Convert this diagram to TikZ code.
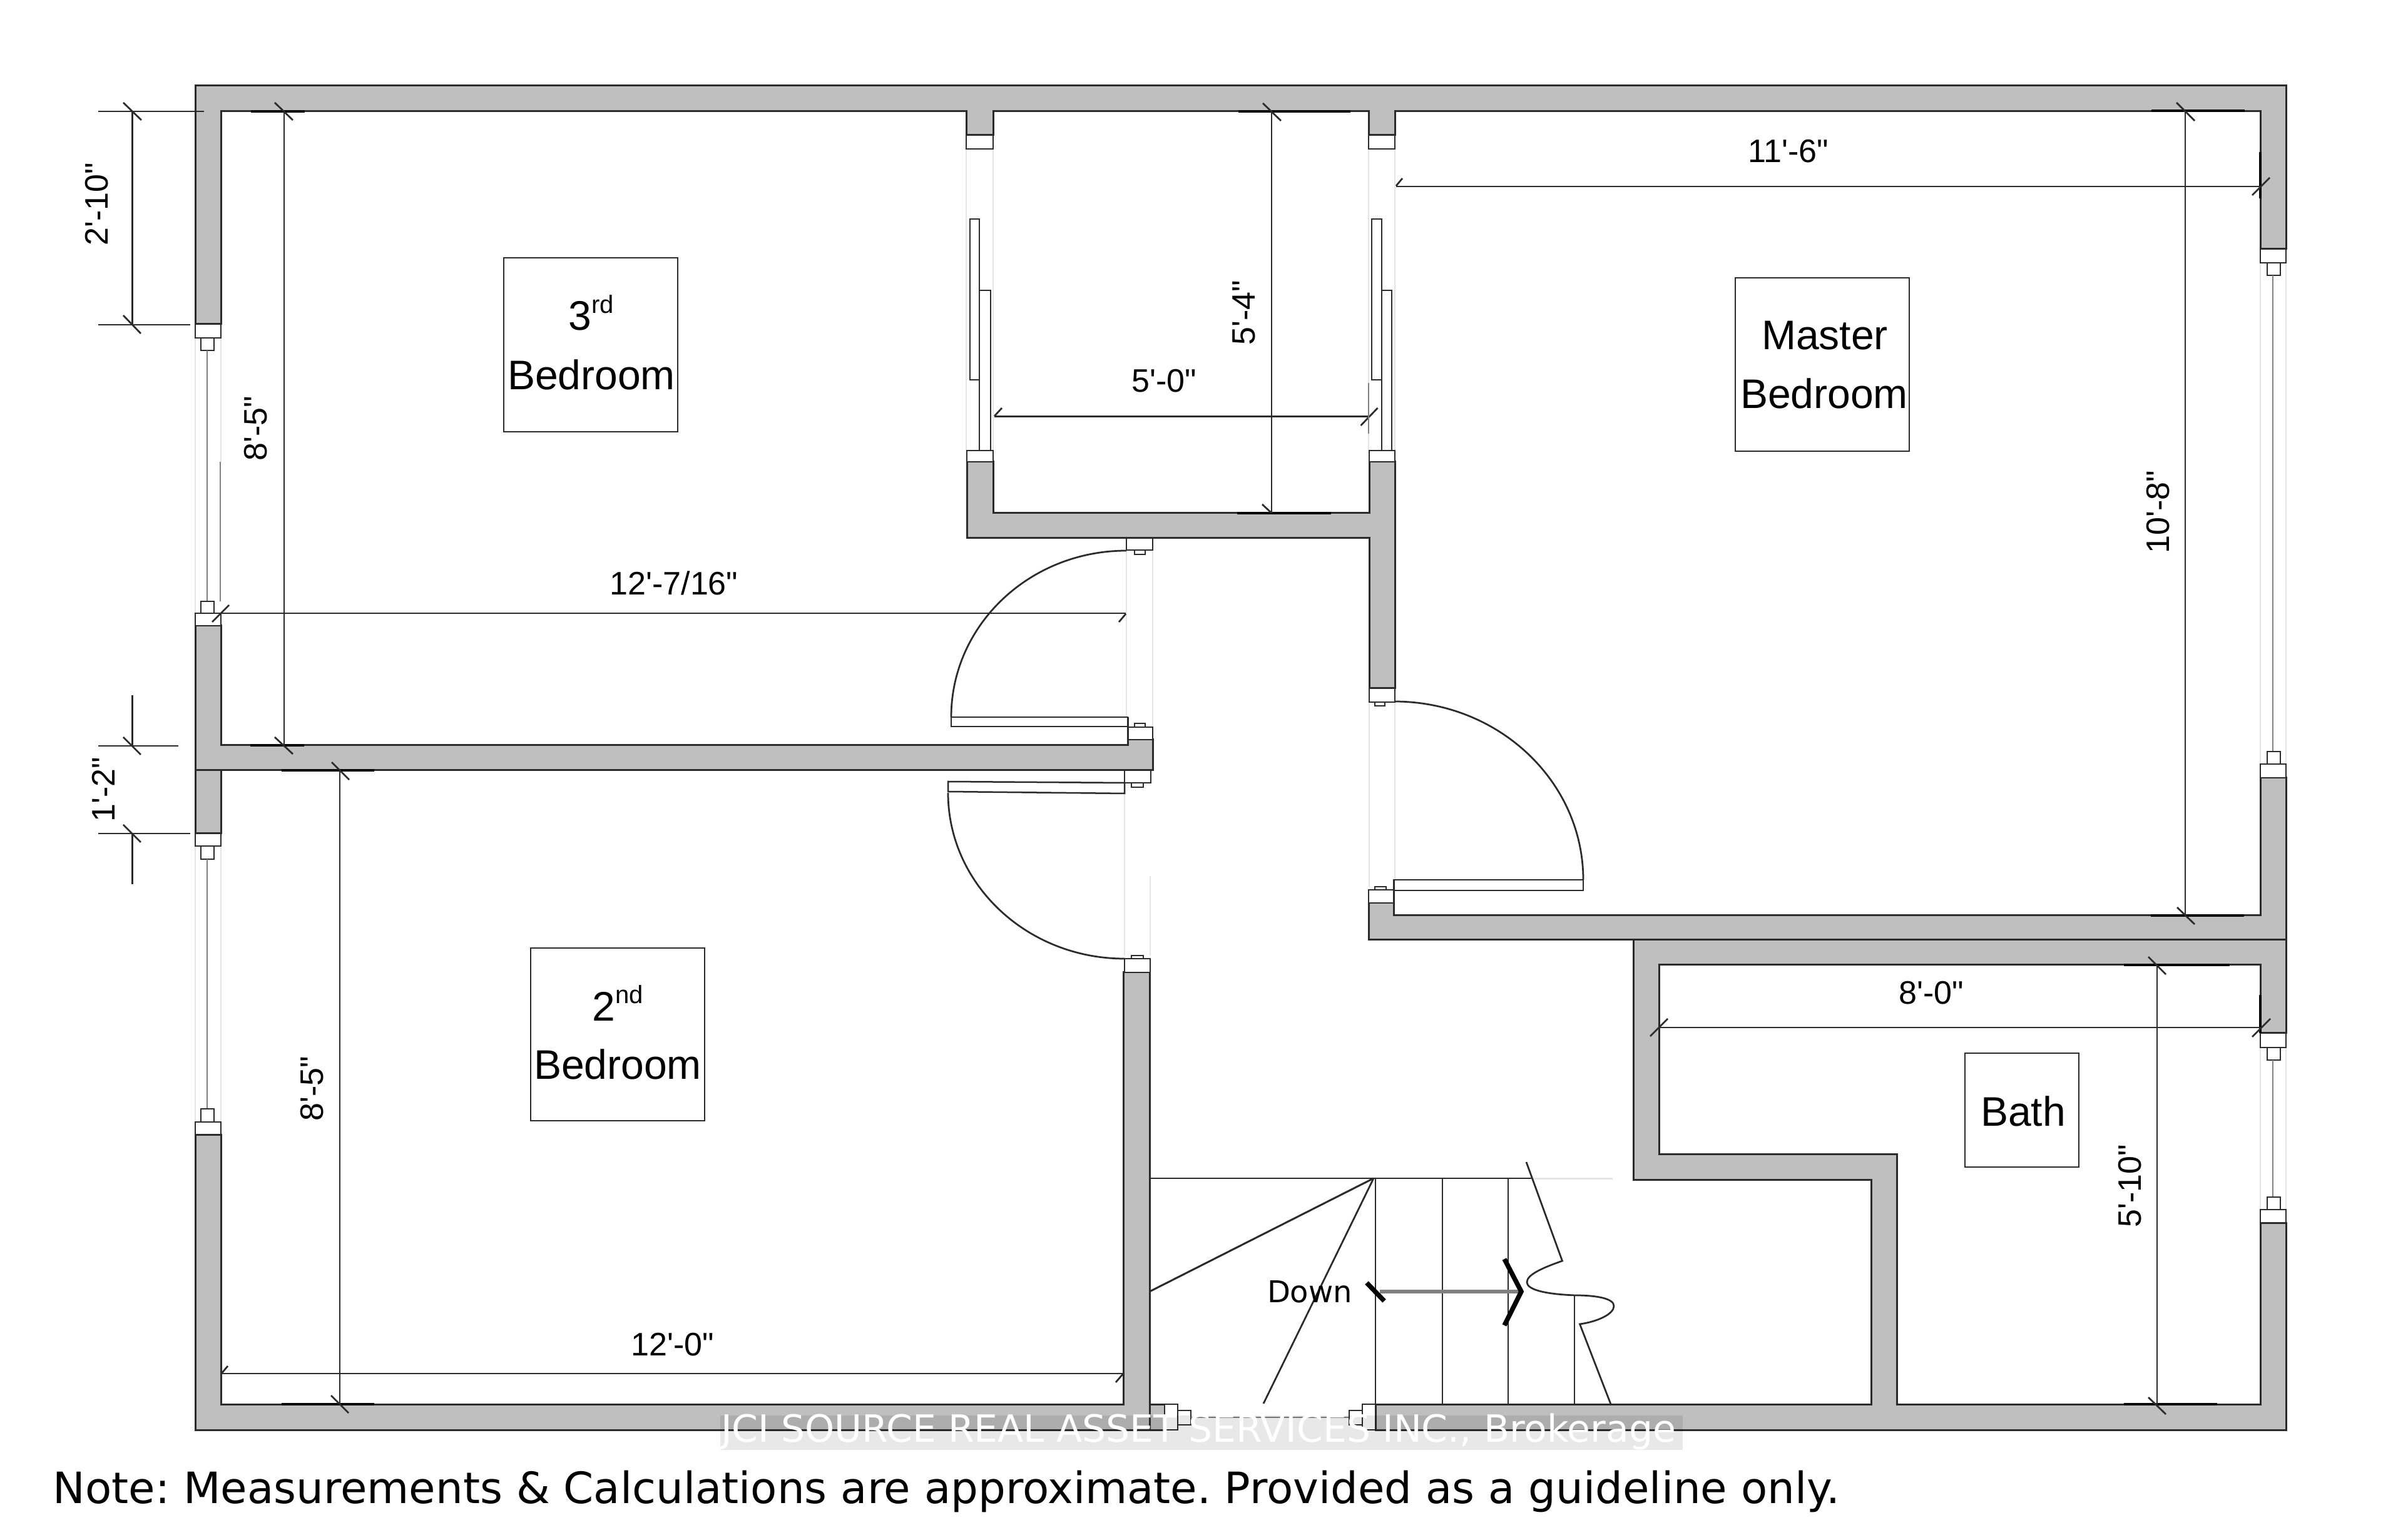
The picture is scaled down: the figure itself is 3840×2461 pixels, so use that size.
\documentclass[tikz,border=0pt]{standalone}
\usepackage{fontspec}
\setmainfont{Liberation Sans}[Ligatures=TeXOff]
\newfontfamily\dejavu{DejaVu Sans}
\definecolor{wallgray}{HTML}{BFBFBF}
\definecolor{inkc}{HTML}{2B2B2B}
\newcommand{\fs}[1]{\fontsize{#1}{#1}\selectfont}
\tikzset{
  wall/.style={fill=wallgray,draw=inkc,line width=.6pt,line join=miter},
  seam/.style={draw=inkc,line width=.6pt},
  jamb/.style={fill=white,draw=inkc,line width=.55pt},
  pane/.style={draw=inkc,line width=.5pt,fill=white},
  glass/.style={draw=gray,line width=.55pt},
  faint/.style={draw=black!10,line width=.35pt},
  dimline/.style={draw=inkc,line width=.55pt},
  tick/.style={draw=inkc,line width=.55pt},
  strip/.style={draw=black,line width=.8pt},
  swing/.style={draw=inkc,line width=.55pt},
  tread/.style={draw=inkc,line width=.55pt},
  roombox/.style={draw=inkc,line width=.55pt},
  dimtext/.style={font=\fs{10.4},text=black,inner sep=0pt,anchor=base},
  dimvert/.style={dimtext,rotate=90},
  roomtext/.style={font=\fs{13.2},text=black,inner sep=0pt,anchor=base},
}
\begin{document}
\begin{tikzpicture}[x=0.2pt,y=-0.2pt]
\useasboundingbox[fill=white] (0,0) rectangle (3840,2461);

% faint opening lines
\draw[faint] (312,540)--(312,980) (353,540)--(353,738);
\draw[faint] (312,1352)--(312,1793) (353,1352)--(353,1793);
\draw[faint] (3612,420)--(3612,1221) (3653,420)--(3653,1221);
\draw[faint] (3612,1674)--(3612,1933) (3653,1674)--(3653,1933);
\draw[faint] (1544,238)--(1544,720) (1587,238)--(1587,720);
\draw[faint] (2187,238)--(2187,720) (2229,238)--(2229,720);
\draw[faint] (1800,879)--(1800,1162) (1842,879)--(1842,1162);
\draw[faint] (1797,1258)--(1797,1527) (1838,1400)--(1838,1527);
\draw[faint] (2188,1122)--(2188,1417) (2229,1122)--(2229,1406);

% walls
\draw[wall] (312,518)--(312,137)--(3653,137)--(3653,398)--(3612,398)--(3612,178)--(2229,178)--(2229,216)--(2187,216)--(2187,178)--(1587,178)--(1587,216)--(1544,216)--(1544,178)--(353,178)--(353,518)--cycle;
\draw[wall] (312,1000)--(353,1000)--(353,1191)--(1802,1191)--(1802,1182)--(1842,1182)--(1842,1231)--(353,1231)--(353,1332)--(312,1332)--cycle;
\draw[seam] (312,1231)--(353,1231);
\draw[wall] (312,1813)--(353,1813)--(353,2244)--(1795,2244)--(1795,1554)--(1837,1554)--(1837,2244)--(1861,2244)--(1861,2285)--(312,2285)--cycle;
\draw[seam] (1837,2244)--(1837,2285);
\draw[wall] (1545,738)--(1587,738)--(1587,820)--(2188,820)--(2188,738)--(2229,738)--(2229,1100)--(2188,1100)--(2188,860)--(1545,860)--cycle;
\draw[wall] (2187,1443)--(2227,1443)--(2227,1463)--(3612,1463)--(3612,1243)--(3653,1243)--(3653,1651)--(3612,1651)--(3612,1542)--(2651,1542)--(2651,1844)--(3031,1844)--(3031,2244)--(3612,2244)--(3612,1954)--(3653,1954)--(3653,2285)--(2198,2285)--(2198,2244)--(2990,2244)--(2990,1885)--(2610,1885)--(2610,1502)--(2187,1502)--cycle;
\draw[seam] (2610,1502)--(3653,1502);

% left windows
\draw[jamb] (312,518) rectangle (353,540);
\draw[jamb] (321,540) rectangle (342,560);
\draw[glass] (331,560)--(331,961);
\draw[jamb] (321,961) rectangle (342,980);
\draw[jamb] (312,980) rectangle (353,1000);
\draw[glass] (352,738)--(352,961);
\draw[jamb] (312,1332) rectangle (353,1352);
\draw[jamb] (321,1352) rectangle (342,1373);
\draw[glass] (331,1373)--(331,1772);
\draw[jamb] (321,1772) rectangle (342,1793);
\draw[jamb] (312,1793) rectangle (353,1813);
% right windows
\draw[jamb] (3612,398) rectangle (3653,420);
\draw[jamb] (3623,420) rectangle (3644,440);
\draw[glass] (3632,440)--(3632,1201);
\draw[jamb] (3623,1201) rectangle (3644,1221);
\draw[jamb] (3612,1221) rectangle (3653,1243);
\draw[jamb] (3612,1651) rectangle (3653,1674);
\draw[jamb] (3623,1674) rectangle (3644,1694);
\draw[glass] (3632,1694)--(3632,1913);
\draw[jamb] (3623,1913) rectangle (3644,1934);
\draw[jamb] (3612,1933) rectangle (3653,1954);
% bottom window
\draw[jamb] (1861,2244) rectangle (1882,2285);
\draw[jamb] (1882,2254) rectangle (1903,2277);
\draw[glass] (1903,2265)--(2156,2265);
\draw[jamb] (2156,2254) rectangle (2177,2277);
\draw[jamb] (2177,2244) rectangle (2198,2285);

% closet stubs and sliding panels
\draw[jamb] (1544,216) rectangle (1587,238);
\draw[jamb] (2187,216) rectangle (2229,238);
\draw[jamb] (1545,720) rectangle (1587,738);
\draw[jamb] (2188,720) rectangle (2229,738);
\draw[pane] (1550,350) rectangle (1565,607);
\draw[pane] (1565,464) rectangle (1583,720);
\draw[pane] (2192,350) rectangle (2208,607);
\draw[pane] (2208,464) rectangle (2224,720);

% door jambs
\draw[jamb] (1800,860) rectangle (1842,879);
\draw[jamb] (1813,879) rectangle (1830,886);
\draw[jamb] (1802,1162) rectangle (1842,1182);
\draw[jamb] (1813,1156) rectangle (1830,1162);
\draw[jamb] (1797,1231) rectangle (1839,1251);
\draw[jamb] (1808,1251) rectangle (1827,1258);
\draw[jamb] (1797,1532) rectangle (1838,1554);
\draw[jamb] (1808,1527) rectangle (1827,1532);
\draw[jamb] (2188,1100) rectangle (2229,1122);
\draw[jamb] (2197,1122) rectangle (2213,1128);
\draw[jamb] (2187,1422) rectangle (2227,1443);
\draw[jamb] (2197,1417) rectangle (2215,1422);

% door panels and swings
\draw[pane] (1520,1146) rectangle (1802,1161);
\draw[seam] (1802,1146)--(1802,1191);
\draw[swing] (1800,880) .. controls (1645,880) and (1520,999) .. (1520,1146);
\draw[pane] (1515,1249)--(1797,1251)--(1797,1268)--(1515,1265)--cycle;
\draw[swing] (1515,1267) .. controls (1515,1413) and (1641,1532) .. (1797,1532);
\draw[pane] (2227,1406) rectangle (2530,1423);
\draw[seam] (2227,1406)--(2227,1463);
\draw[swing] (2228,1121) .. controls (2395,1121) and (2530,1249) .. (2530,1406);

% stairs
\draw[tread] (1837,1883)--(2447,1883);
\draw[faint,line width=.6pt] (2447,1883)--(2577,1883);
\draw[tread] (2198,1883)--(2198,2244) (2305,1883)--(2305,2244) (2410,1883)--(2410,2244) (2516,2070)--(2516,2244);
\draw[tread,line width=.6pt] (2195,1883)--(1837,2064);
\draw[tread] (2195,1883)--(2019,2243);
\draw[tread] (2439,1857)--(2496.5,2015) .. controls (2465,2026) and (2440,2037) .. (2440,2049) .. controls (2440,2060) and (2465,2068) .. (2517.5,2070) .. controls (2553,2070) and (2579,2075.5) .. (2579,2087) .. controls (2579,2100) and (2553,2112) .. (2524.5,2116)--(2574,2244);
\draw[draw=gray,line width=1.2pt] (2205,2064)--(2428,2064);
\draw[draw=black,line width=1.5pt] (2404,2012)--(2431,2064)--(2404,2118);
\draw[draw=black,line width=1.5pt] (2184,2050)--(2212,2079);

% room boxes
\draw[roombox] (805,412) rectangle (1083,690);
\draw[roombox] (848,1515) rectangle (1126,1791);
\draw[roombox] (2773,444) rectangle (3051,721);
\draw[roombox] (3140,1683) rectangle (3322,1865);

% dimension strips
\draw[strip] (401,178)--(487,178) (400,1191)--(486,1191) (450,1231)--(598,1231) (450,2244)--(598,2244);
\draw[strip] (3438,177)--(3587,177) (3437,1463)--(3586,1463) (3394,1542)--(3563,1542) (3394,2244)--(3543,2244);
\draw[strip] (1979,178)--(2158,178) (1977,820)--(2127,820);
\draw[strip] (3612,243)--(3612,317) (3612,1590)--(3612,1651);

% dimensions
\draw[dimline] (211.7,178)--(211.7,519) (157,178)--(326,178) (157,519)--(304,519);
\draw[tick] (197,164)--(226,192) (197,504)--(225,533);
\draw[dimline] (211.7,1111)--(211.7,1192) (157,1192)--(285,1192) (157,1332)--(304,1332) (211.7,1332)--(211.7,1413);
\draw[tick] (197,1178)--(225,1206) (197,1318)--(225,1346);
\draw[dimline] (454,178)--(454,1191);
\draw[tick] (439,164)--(468,192) (439,1178)--(468,1205);
\draw[dimline] (543,1231)--(543,2244);
\draw[tick] (530,1218)--(558,1246) (529,2230)--(557,2258);
\draw[dimline] (353,980)--(1799,980);
\draw[tick] (339,994)--(366,967) (1788,994)--(1799,981);
\draw[dimline] (353,2195)--(1795,2195);
\draw[tick] (353,2196)--(364,2183) (1783,2209)--(1795,2195);
\draw[dimline] (2032,178)--(2032,820);
\draw[tick] (2018,165)--(2047,193) (2017,806)--(2031,819);
\draw[dimline] (1589,665.5)--(2187,665.5);
\draw[tick] (1589,665)--(1601,652) (2174.5,680)--(2201.5,652);
\draw[glass] (2187,612)--(2187,693);
\draw[dimline] (2231,298)--(3612,298);
\draw[tick] (2231,297)--(2241,285) (3599,312)--(3627,284);
\draw[dimline] (3492,178)--(3492,1463);
\draw[tick] (3478,164)--(3507,193) (3479,1450)--(3507,1477);
\draw[dimline] (2651,1642)--(3612,1642);
\draw[tick] (2637,1656)--(2665,1628) (3599,1657)--(3628,1628);
\draw[dimline] (3447,1542)--(3447,2244);
\draw[tick] (3433,1529)--(3461,1557) (3433,2233)--(3461,2260);

% dimension labels
\node[dimvert] (d210) at (172,326) {2'-10"};
\node[dimvert] (d12) at (183,1262) {1'-2"};
\node[dimvert] (d85a) at (426,685) {8'-5"};
\node[dimvert] (d85b) at (516,1740) {8'-5"};
\node[dimvert] (d54) at (2005,500) {5'-4"};
\node[dimvert] (d108) at (3466,818) {10'-8"};
\node[dimvert] (d510) at (3421,1895) {5'-10"};
\node[dimtext] (d1207) at (1077,951) {12'-7/16"};
\node[dimtext] (d120) at (1075,2166) {12'-0"};
\node[dimtext] (d50) at (1860,627) {5'-0"};
\node[dimtext] (d116) at (2858,260) {11'-6"};
\node[dimtext] (d80) at (3086,1605) {8'-0"};

% room labels
\node[roomtext] (r3a) at (945,528) {3\raisebox{.42em}{\fs{8}rd}};
\node[roomtext] (r3b) at (945,623) {Bedroom};
\node[roomtext] (r2a) at (987,1631) {2\raisebox{.42em}{\fs{8}nd}};
\node[roomtext] (r2b) at (987,1724) {Bedroom};
\node[roomtext] (rma) at (2916,559) {Master};
\node[roomtext] (rmb) at (2915,653) {Bedroom};
\node[roomtext] (rb) at (3233,1799) {Bath};
\node[inner sep=0pt,anchor=base,font={\dejavu\fs{9.6}}] (dn) at (2093,2081) {Down};

% watermark band and note
\fill[black,opacity=.09] (1151,2262) rectangle (2689,2317);
\node[inner sep=0pt,anchor=base west,font={\dejavu\fs{12}},text=white] (wm) at (1151,2304) {JCI SOURCE REAL ASSET SERVICES INC., Brokerage};
\node[inner sep=0pt,anchor=base west,font={\dejavu\fs{13.8}\frenchspacing},text=black] (note) at (84,2402) {Note: Measurements \& Calculations are approximate. Provided as a guideline only.};
\end{tikzpicture}
\end{document}
